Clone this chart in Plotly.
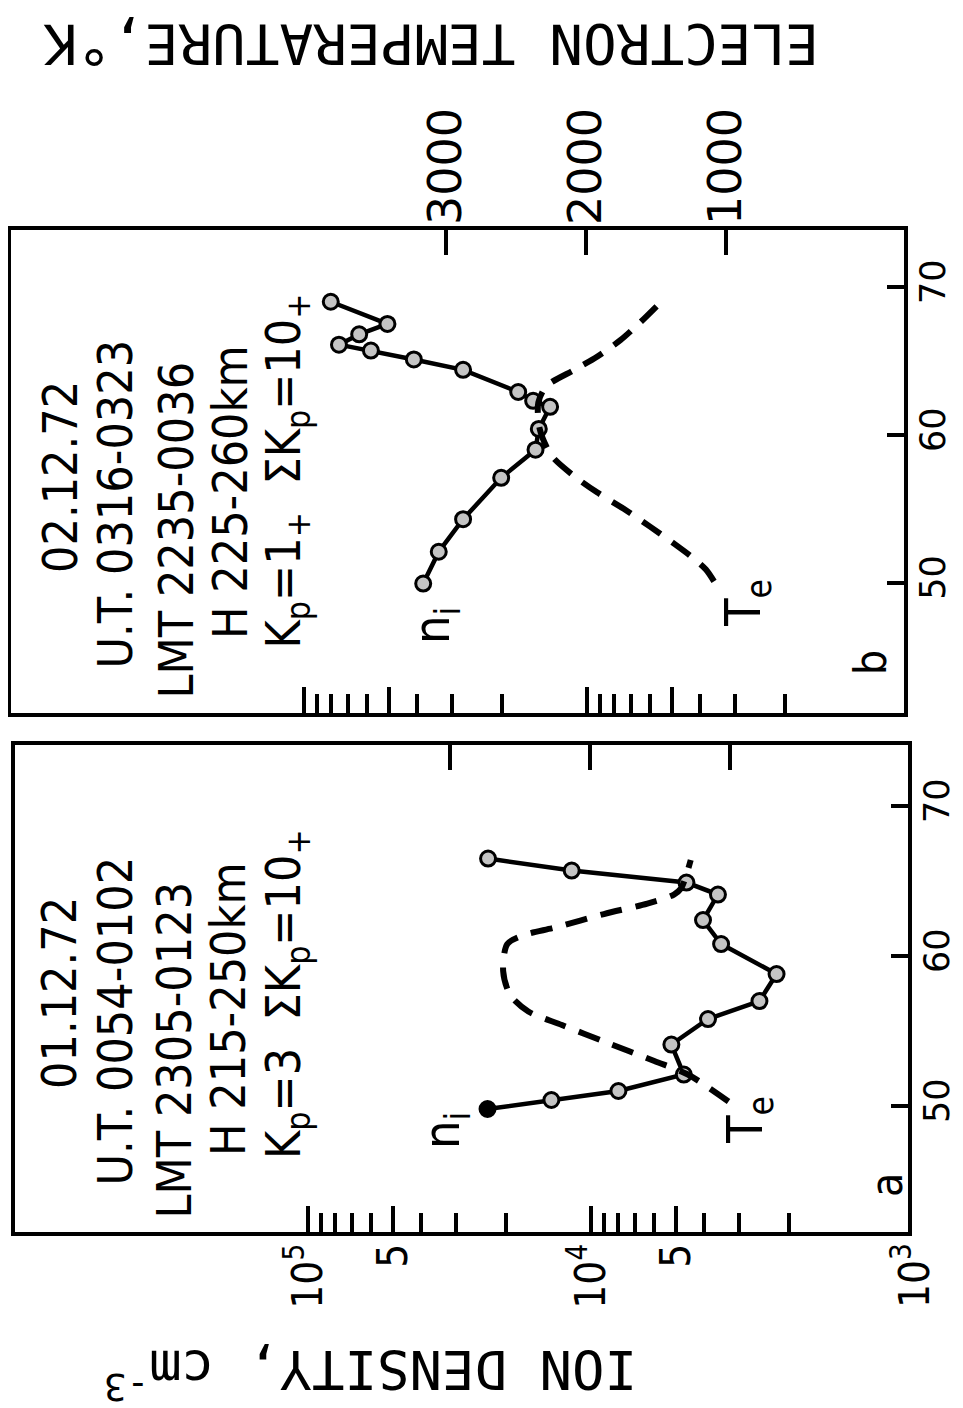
import plotly.graph_objects as go

# ---------------- data ----------------
# panel a : 01.12.72
lat_ni_a = [49.8, 50.4, 51.0, 52.1, 54.1, 55.8, 57.0, 58.8, 60.8, 62.4, 64.1, 64.9, 65.7, 66.5]
ni_a = [23200, 13800, 8000, 4700, 5200, 3860, 2540, 2210, 3470, 4020, 3560, 4600, 11700, 23100]
lat_te_a = [50.3, 52.1, 53.0, 54.3, 55.4, 56.3, 57.4, 59.0, 60.8, 61.4, 61.9, 62.8, 63.5, 64.1, 64.5, 66.4]
te_a = [1010, 1300, 1540, 1900, 2200, 2440, 2570, 2620, 2590, 2470, 2250, 1900, 1590, 1400, 1350, 1280]

# panel b : 02.12.72
lat_ni_b = [49.95, 52.1, 54.3, 57.1, 59.0, 60.4, 61.9, 62.3, 62.9, 64.4, 65.1, 65.7, 66.1, 66.8, 67.5, 69.0]
ni_b = [37900, 33400, 27400, 20100, 15200, 14800, 13500, 15500, 17500, 27400, 40900, 58000, 75200, 63800, 50700, 80400]
lat_te_b = [50.1, 50.9, 51.7, 52.7, 53.8, 55.0, 56.1, 57.2, 58.6, 60.4, 62.2, 63.3, 64.4, 65.3, 66.4, 67.6, 68.8]
te_b = [1085, 1143, 1237, 1378, 1542, 1730, 1918, 2082, 2246, 2330, 2340, 2282, 2082, 1918, 1754, 1613, 1484]

lat_ticks = [50, 60, 70]
lat_ticktext = ["50", "60", "70"]
te_ticks = [1000, 2000, 3000]
te_ticktext = ["1000", "2000", "3000"]
ni_major = [5e3, 1e4, 5e4, 1e5]
ni_major_text = ["5", "10<sup>4</sup>", "5", "10<sup>5</sup>"]
ni_minor = [2e3, 3e3, 4e3, 6e3, 7e3, 8e3, 9e3, 2e4, 3e4, 4e4, 6e4, 7e4, 8e4, 9e4]

text_a = ["01.12.72", "U.T. 0054-0102", "LMT 2305-0123", "H 215-250km",
          "K<sub>p</sub>=3  ΣK<sub>p</sub>=10<sub>+</sub>"]
text_b = ["02.12.72", "U.T. 0316-0323", "LMT 2235-0036", "H 225-260km",
          "K<sub>p</sub>=1<sub>+</sub>  ΣK<sub>p</sub>=10<sub>+</sub>"]

# ---------------- layout helpers ----------------
W, H = 963, 1408
def px(x):
    return x / W
def py(y):
    return 1 - y / H

NARROW = "DejaVu Sans Condensed, Liberation Sans Narrow, sans-serif"
SANS = "DejaVu Sans, sans-serif"
MONO = "DejaVu Sans Mono, monospace"

fig = go.Figure()

marker_a = dict(size=15, color=["black"] + ["#c4c4c4"] * (len(ni_a) - 1),
                line=dict(color="black", width=3))
marker_b = dict(size=15, color="#c4c4c4", line=dict(color="black", width=3))
dash_line = dict(color="black", width=6, dash="22px,14px", shape="spline", smoothing=0.8)

fig.add_trace(go.Scatter(x=te_a, y=lat_te_a, xaxis="x2", yaxis="y", mode="lines",
                         line=dash_line, showlegend=False))
fig.add_trace(go.Scatter(x=ni_a, y=lat_ni_a, xaxis="x", yaxis="y", mode="lines+markers",
                         line=dict(color="black", width=4.5), marker=marker_a, showlegend=False))
fig.add_trace(go.Scatter(x=te_b, y=lat_te_b, xaxis="x4", yaxis="y2", mode="lines",
                         line=dash_line, showlegend=False))
fig.add_trace(go.Scatter(x=ni_b, y=lat_ni_b, xaxis="x3", yaxis="y2", mode="lines+markers",
                         line=dict(color="black", width=4.5), marker=marker_b, showlegend=False))

dom_a = [px(7), px(900)]
dom_b = [px(3), px(896)]
ydom_a = [py(1224), py(737)]
ydom_b = [py(705), py(222)]

NI_RANGE = [6.035, 2.88]
TE_RANGE = [6107, -272]
LAT_RANGE_A = [41.6, 74.07]
LAT_RANGE_B = [41.2, 73.85]

def ni_axis(domain, anchor, labels):
    return dict(type="log", domain=domain, anchor=anchor, range=NI_RANGE,
                showline=True, linewidth=4, linecolor="black", mirror=True,
                showgrid=False, zeroline=False,
                tickmode="array", tickvals=ni_major, ticktext=ni_major_text,
                ticks="inside", ticklen=26, tickwidth=3.5, tickcolor="black",
                showticklabels=labels, tickangle=-90,
                tickfont=dict(family=NARROW, size=42, color="black"),
                ticklabelstandoff=-9,
                minor=dict(tickvals=ni_minor, ticks="inside", ticklen=19,
                           tickwidth=3.5, tickcolor="black"))

def te_axis(domain, anchor, over, labels):
    return dict(domain=domain, anchor=anchor, overlaying=over, side="top", range=TE_RANGE,
                showline=False, showgrid=False, zeroline=False,
                tickmode="array", tickvals=te_ticks, ticktext=te_ticktext,
                ticks="inside", ticklen=25, tickwidth=3.5, tickcolor="black",
                showticklabels=labels, tickangle=-90,
                tickfont=dict(family=SANS, size=46, color="black"),
                ticklabelstandoff=4)

def lat_axis(domain, anchor, rng):
    return dict(domain=domain, anchor=anchor, side="right", range=rng,
                showline=True, linewidth=4, linecolor="black", mirror=True,
                showgrid=False, zeroline=False,
                tickmode="array", tickvals=lat_ticks, ticktext=lat_ticktext,
                ticks="inside", ticklen=17, tickwidth=3.5, tickcolor="black",
                tickangle=-90, tickfont=dict(family=SANS, size=35, color="black"),
                ticklabelstandoff=-5)

annotations = []

def line_texts(lines, xs, ys):
    for t, x, y in zip(lines, xs, ys):
        annotations.append(dict(text=t, x=px(x), y=py(y), xref="paper", yref="paper",
                                xanchor="center", yanchor="bottom", textangle=-90,
                                showarrow=False,
                                font=dict(family=NARROW, size=48, color="black")))

line_texts(text_a, [51, 106, 165, 220, 278], [1083, 1180, 1213, 1150, 1153])
line_texts(text_b, [52, 106, 167, 222, 278], [567, 663, 693, 633, 643])

def label(t, x, y, size, angle=-90, family=NARROW):
    annotations.append(dict(text=t, x=px(x), y=py(y), xref="paper", yref="paper",
                            xanchor="center", yanchor="middle", textangle=angle,
                            showarrow=False, font=dict(family=family, size=size, color="black")))

label("n<sub>i</sub>", 437, 1123, 50)
label("T<sub>e</sub>", 740, 1112, 50)
label("n<sub>i</sub>", 427, 618, 50)
label("T<sub>e</sub>", 738, 595, 50)
label("a", 878, 1177, 44)
label("b", 862, 655, 44)
label("10<sup>3</sup>", 903, 1268, 42)
label("ELECTRON TEMPERATURE,°K", 423, 36, 56, angle=180, family=MONO)
label("ION DENSITY, cm<sup>-3</sup>", 363, 1366, 54, angle=180, family=MONO)

fig.update_layout(
    width=W, height=H, margin=dict(l=0, r=0, t=0, b=0),
    paper_bgcolor="white", plot_bgcolor="white", showlegend=False,
    xaxis=ni_axis(dom_a, "y", True),
    xaxis2=te_axis(dom_a, "y", "x", False),
    xaxis3=ni_axis(dom_b, "y2", False),
    xaxis4=te_axis(dom_b, "y2", "x3", True),
    yaxis=lat_axis(ydom_a, "x", LAT_RANGE_A),
    yaxis2=lat_axis(ydom_b, "x3", LAT_RANGE_B),
    annotations=annotations,
)

fig.write_html("out.html")
